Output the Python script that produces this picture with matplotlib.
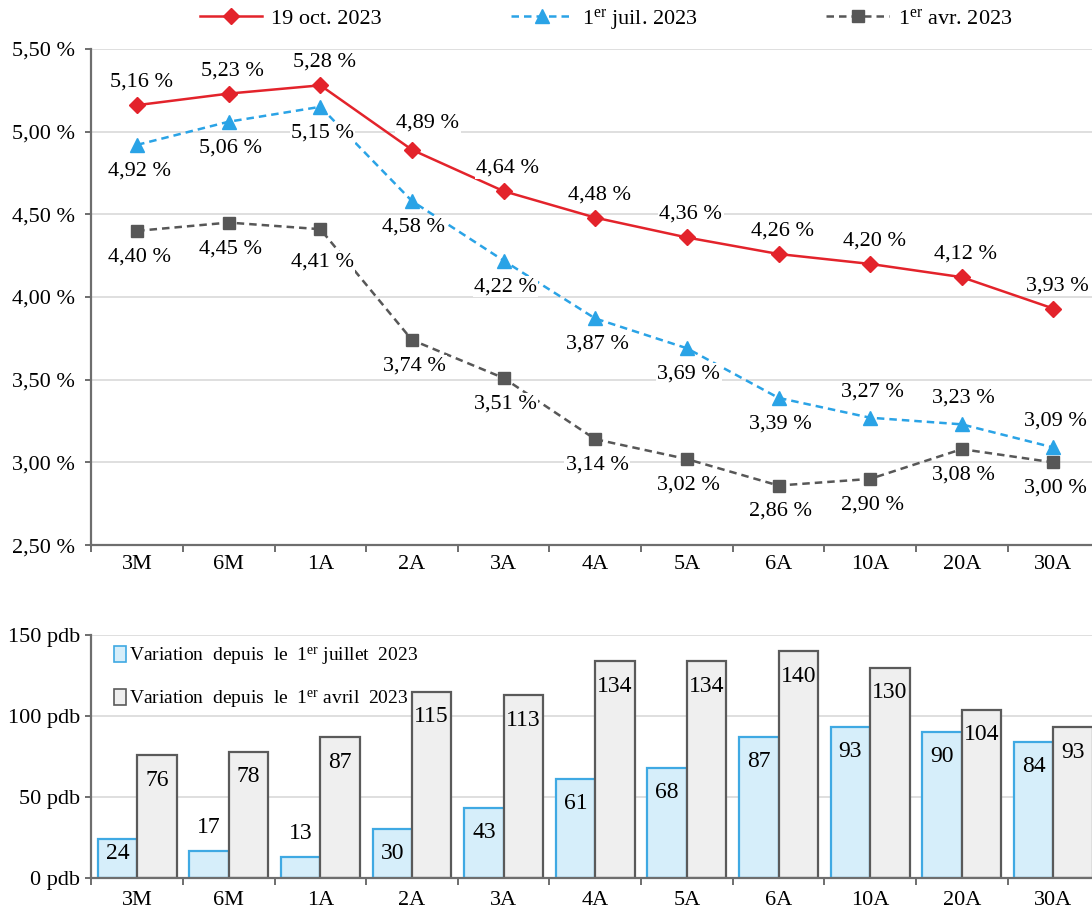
import numpy as np
import matplotlib
matplotlib.use("Agg")
import matplotlib.pyplot as plt
from matplotlib.patches import Patch

plt.rcParams['font.family'] = ['Liberation Serif', 'DejaVu Serif']
plt.rcParams['mathtext.fontset'] = 'custom'
plt.rcParams['mathtext.rm'] = 'Liberation Serif'
plt.rcParams['mathtext.it'] = 'Liberation Serif:italic'

# Courbe des taux (en %)
maturites = ["3M", "6M", "1A", "2A", "3A", "4A", "5A", "6A", "10A", "20A", "30A"]
taux_oct = [5.16, 5.23, 5.28, 4.89, 4.64, 4.48, 4.36, 4.26, 4.20, 4.12, 3.93]
taux_juil = [4.92, 5.06, 5.15, 4.58, 4.22, 3.87, 3.69, 3.39, 3.27, 3.23, 3.09]
taux_avr = [4.40, 4.45, 4.41, 3.74, 3.51, 3.14, 3.02, 2.86, 2.90, 3.08, 3.00]

# Variations en points de base
var_juil = [24, 17, 13, 30, 43, 61, 68, 87, 93, 90, 84]
var_avr = [76, 78, 87, 115, 113, 134, 134, 140, 130, 104, 93]

# la serie de juillet a ses etiquettes au-dessus pour les 3 dernieres maturites
juil_dessus = [False] * 8 + [True] * 3

rouge = "#e3232b"
bleu = "#2aa3e6"
gris = "#575757"
axe_col = "#6e6e6e"
grille = "#d9d9d9"
fs = 16

fig = plt.figure(figsize=(10.92, 9.13), dpi=100)
ax1 = fig.add_axes([0.0836, 0.403, 0.923, 0.5434])
ax2 = fig.add_axes([0.0836, 0.0383, 0.923, 0.266])
x = np.arange(len(maturites))


def fmt_pct(v):
    return f"{v:.2f}".replace(".", ",") + " %"


def style_axe(ax):
    for s in ["top", "right"]:
        ax.spines[s].set_visible(False)
    for s in ["left", "bottom"]:
        ax.spines[s].set_color(axe_col)
        ax.spines[s].set_linewidth(1.6)
    ax.set_xlim(-0.5, len(maturites) - 0.5)
    ax.set_xticks(np.arange(-0.5, len(maturites), 1))
    ax.set_xticklabels([])
    ax.set_xticks(x, minor=True)
    ax.set_xticklabels(maturites, minor=True, fontsize=fs)
    ax.tick_params(axis="x", which="major", length=5, width=1.4, color=axe_col)
    ax.tick_params(axis="x", which="minor", length=0, pad=7)
    ax.tick_params(axis="y", length=4, width=1.4, color=axe_col, labelsize=fs)
    ax.yaxis.grid(True, color=grille, linewidth=1.2)
    ax.set_axisbelow(True)


# ---- graphique du haut : courbes ----
style_axe(ax1)
ax1.set_ylim(2.5, 5.5)
yt = np.arange(2.5, 5.51, 0.5)
ax1.set_yticks(yt)
ax1.set_yticklabels([fmt_pct(v) for v in yt])
ax1.tick_params(axis="y", pad=8)

ax1.plot(x, taux_oct, color=rouge, lw=1.8, marker="D", ms=8, label="19 oct. 2023", zorder=4)
ax1.plot(x, taux_juil, color=bleu, lw=1.8, ls=(0, (3, 2)), marker="^", ms=10,
         label="1$^{\\mathrm{er}}$ juil. 2023", zorder=3)
ax1.plot(x, taux_avr, color=gris, lw=1.8, ls=(0, (3, 2)), marker="s", ms=8,
         label="1$^{\\mathrm{er}}$ avr. 2023", zorder=2)

box = dict(fc="white", ec="none", pad=1)
for i, v in enumerate(taux_oct):
    dx = 16 if maturites[i] == "2A" else 4
    dy = 27 if maturites[i] == "2A" else 23
    ax1.annotate(fmt_pct(v), (i, v), xytext=(dx, dy), textcoords="offset pixels",
                 ha="center", va="center", fontsize=fs, bbox=box, zorder=5)
for i, v in enumerate(taux_juil):
    dy = 26 if juil_dessus[i] else -26
    ax1.annotate(fmt_pct(v), (i, v), xytext=(2, dy), textcoords="offset pixels",
                 ha="center", va="center", fontsize=fs, bbox=box, zorder=5)
for i, v in enumerate(taux_avr):
    dy = -33 if maturites[i] == "1A" else -26
    ax1.annotate(fmt_pct(v), (i, v), xytext=(2, dy), textcoords="offset pixels",
                 ha="center", va="center", fontsize=fs, bbox=box, zorder=5)

fig.legend(loc="center", bbox_to_anchor=(0.555, 0.979), ncol=3, frameon=False,
           fontsize=fs, handlelength=2.8, columnspacing=5.8, handletextpad=0.4)

# ---- graphique du bas : barres ----
style_axe(ax2)
ax2.set_ylim(0, 150)
ax2.set_yticks([0, 50, 100, 150])
ax2.set_yticklabels([f"{v} pdb" for v in [0, 50, 100, 150]])
ax2.tick_params(axis="y", pad=4)
ax2.tick_params(axis="x", which="minor", pad=9)

w = 0.43
ax2.bar(x - w / 2, var_juil, w, color="#d6eefa", edgecolor="#3fa9e3", linewidth=1.6, zorder=2)
ax2.bar(x + w / 2, var_avr, w, color="#efefef", edgecolor="#5a5a5a", linewidth=1.6, zorder=2)

for i, v in enumerate(var_juil):
    if v < 20:
        y = v + 14.5
    else:
        y = max(v - 15, 15.4)
    ax2.text(i - w / 2, y, str(v), ha="center", va="center", fontsize=17, zorder=3)
for i, v in enumerate(var_avr):
    ax2.text(i + w / 2, v - 15.5, str(v), ha="center", va="center", fontsize=17, zorder=3)

leg_handles = [
    Patch(fc="#d6eefa", ec="#3fa9e3", lw=1.2),
    Patch(fc="#efefef", ec="#5a5a5a", lw=1.2),
]
leg_labels = [
    "Variation  depuis  le  1$^{\\mathrm{er}}$ juillet  2023",
    "Variation  depuis  le  1$^{\\mathrm{er}}$ avril  2023",
]
ax2.legend(leg_handles, leg_labels, loc="upper left", bbox_to_anchor=(0.015, 0.99),
           frameon=False, fontsize=14, handlelength=0.6, handleheight=0.9,
           handletextpad=0.15, labelspacing=1.1, borderaxespad=0)

fig.savefig("out.png", dpi=100)
